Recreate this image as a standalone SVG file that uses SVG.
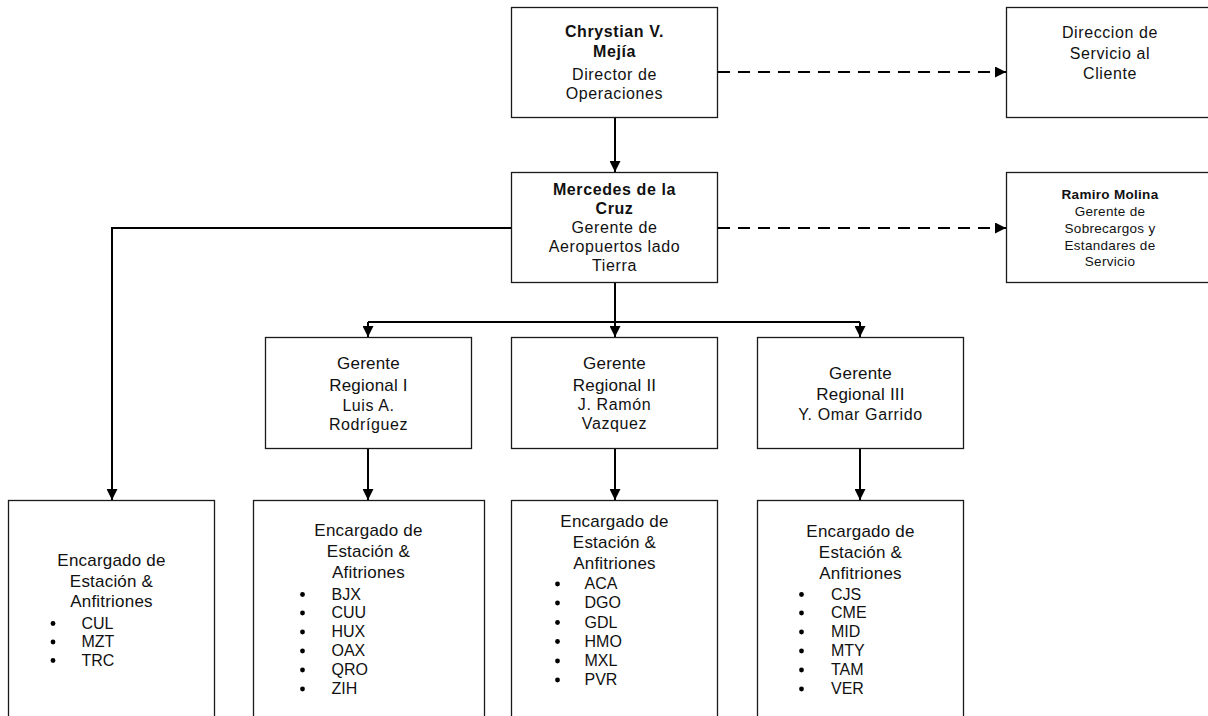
<svg xmlns="http://www.w3.org/2000/svg" width="1208" height="716" viewBox="0 0 1208 716">
<style>
.box{fill:#fff;stroke:#1a1a1a;stroke-width:1.3}
.t{font-family:"Liberation Sans",Arial,sans-serif;font-size:16px;fill:#111;text-anchor:middle;letter-spacing:0.6px}
.b{font-weight:bold}
.s{font-size:13.5px;letter-spacing:0.3px}
.g{font-size:17px;letter-spacing:0.2px}
.li{font-family:"Liberation Sans",Arial,sans-serif;font-size:16px;fill:#111}
.bu{fill:#000}
.c{fill:none;stroke:#000;stroke-width:2}
.d{stroke-dasharray:12 8}
</style>
<defs>
<marker id="ah" viewBox="0 0 11 11" refX="11" refY="5.5" markerWidth="11" markerHeight="11" markerUnits="userSpaceOnUse" orient="auto">
<path d="M0,0 L11,5.5 L0,11 Z" fill="#000"/>
</marker>
</defs>
<g id="connectors">
<path class="c" d="M615,118 V172" marker-end="url(#ah)"/>
<path class="c d" d="M718,72 H1006" marker-end="url(#ah)"/>
<path class="c d" d="M718,228 H1006" marker-end="url(#ah)"/>
<path class="c" d="M511,228 H112 V500" marker-end="url(#ah)"/>
<path class="c" d="M615,283 V322"/>
<path class="c" d="M368,322 H860"/>
<path class="c" d="M368,322 V337" marker-end="url(#ah)"/>
<path class="c" d="M615,322 V337" marker-end="url(#ah)"/>
<path class="c" d="M860,322 V337" marker-end="url(#ah)"/>
<path class="c" d="M368,449 V500" marker-end="url(#ah)"/>
<path class="c" d="M615,449 V500" marker-end="url(#ah)"/>
<path class="c" d="M860,449 V500" marker-end="url(#ah)"/>
</g>
<g id="n-director">
<rect class="box" x="511.5" y="7.5" width="206" height="110"/>
<text class="t b" x="614.5" y="37">Chrystian V.</text>
<text class="t b" x="614.5" y="57">Mejía</text>
<text class="t" x="614.5" y="80">Director de</text>
<text class="t" x="614.5" y="99">Operaciones</text>
</g>
<g id="n-servicio">
<rect class="box" x="1006.5" y="7.5" width="207" height="110"/>
<text class="t" x="1110" y="38">Direccion de</text>
<text class="t" x="1110" y="58.5">Servicio al</text>
<text class="t" x="1110" y="79">Cliente</text>
</g>
<g id="n-mercedes">
<rect class="box" x="511.5" y="172.5" width="206" height="110"/>
<text class="t b" x="614.5" y="195">Mercedes de la</text>
<text class="t b" x="614.5" y="214">Cruz</text>
<text class="t" x="614.5" y="233">Gerente de</text>
<text class="t" x="614.5" y="252">Aeropuertos lado</text>
<text class="t" x="614.5" y="271">Tierra</text>
</g>
<g id="n-ramiro">
<rect class="box" x="1006.5" y="172.5" width="207" height="110"/>
<text class="t s b" x="1110" y="199">Ramiro Molina</text>
<text class="t s" x="1110" y="215.5">Gerente de</text>
<text class="t s" x="1110" y="232.5">Sobrecargos y</text>
<text class="t s" x="1110" y="249.5">Estandares de</text>
<text class="t s" x="1110" y="266">Servicio</text>
</g>
<g id="n-reg1">
<rect class="box" x="265.5" y="337.5" width="206" height="111"/>
<text class="t g" x="368.5" y="369">Gerente</text>
<text class="t g" x="368.5" y="391">Regional I</text>
<text class="t" x="368.5" y="410.5">Luis A.</text>
<text class="t" x="368.5" y="429.5">Rodríguez</text>
</g>
<g id="n-reg2">
<rect class="box" x="511.5" y="337.5" width="206" height="111"/>
<text class="t g" x="614.5" y="368.5">Gerente</text>
<text class="t g" x="614.5" y="390.5">Regional II</text>
<text class="t" x="614.5" y="409.5">J. Ramón</text>
<text class="t" x="614.5" y="428.5">Vazquez</text>
</g>
<g id="n-reg3">
<rect class="box" x="757.5" y="337.5" width="206" height="111"/>
<text class="t g" x="860.5" y="378.5">Gerente</text>
<text class="t g" x="860.5" y="400">Regional III</text>
<text class="t" x="860.5" y="419.5">Y. Omar Garrido</text>
</g>
<g id="n-est0">
<rect class="box" x="8.5" y="500.5" width="206" height="230"/>
<text class="t g" x="111.5" y="566">Encargado de</text>
<text class="t g" x="111.5" y="587">Estación &amp;</text>
<text class="t g" x="111.5" y="607">Anfitriones</text>
<circle class="bu" cx="53" cy="623.5" r="2.4"/><text class="li" x="81.5" y="628.5">CUL</text>
<circle class="bu" cx="53" cy="642" r="2.4"/><text class="li" x="81.5" y="647">MZT</text>
<circle class="bu" cx="53" cy="660.5" r="2.4"/><text class="li" x="81.5" y="665.5">TRC</text>
</g>
<g id="n-est1">
<rect class="box" x="253.5" y="500.5" width="231" height="230"/>
<text class="t g" x="368.5" y="536">Encargado de</text>
<text class="t g" x="368.5" y="557">Estación &amp;</text>
<text class="t g" x="368.5" y="578">Afitriones</text>
<circle class="bu" cx="302.5" cy="594.5" r="2.4"/><text class="li" x="331.5" y="599.5">BJX</text>
<circle class="bu" cx="302.5" cy="613" r="2.4"/><text class="li" x="331.5" y="618">CUU</text>
<circle class="bu" cx="302.5" cy="632" r="2.4"/><text class="li" x="331.5" y="637">HUX</text>
<circle class="bu" cx="302.5" cy="651" r="2.4"/><text class="li" x="331.5" y="656">OAX</text>
<circle class="bu" cx="302.5" cy="670" r="2.4"/><text class="li" x="331.5" y="675">QRO</text>
<circle class="bu" cx="302.5" cy="689" r="2.4"/><text class="li" x="331.5" y="694">ZIH</text>
</g>
<g id="n-est2">
<rect class="box" x="511.5" y="500.5" width="206" height="230"/>
<text class="t g" x="614.5" y="527">Encargado de</text>
<text class="t g" x="614.5" y="547.5">Estación &amp;</text>
<text class="t g" x="614.5" y="568.5">Anfitriones</text>
<circle class="bu" cx="557.5" cy="584" r="2.4"/><text class="li" x="584.5" y="589">ACA</text>
<circle class="bu" cx="557.5" cy="603" r="2.4"/><text class="li" x="584.5" y="608">DGO</text>
<circle class="bu" cx="557.5" cy="622.5" r="2.4"/><text class="li" x="584.5" y="627.5">GDL</text>
<circle class="bu" cx="557.5" cy="641.5" r="2.4"/><text class="li" x="584.5" y="646.5">HMO</text>
<circle class="bu" cx="557.5" cy="661" r="2.4"/><text class="li" x="584.5" y="666">MXL</text>
<circle class="bu" cx="557.5" cy="680" r="2.4"/><text class="li" x="584.5" y="685">PVR</text>
</g>
<g id="n-est3">
<rect class="box" x="757.5" y="500.5" width="206" height="230"/>
<text class="t g" x="860.5" y="537">Encargado de</text>
<text class="t g" x="860.5" y="558">Estación &amp;</text>
<text class="t g" x="860.5" y="578.5">Anfitriones</text>
<circle class="bu" cx="801.5" cy="594.5" r="2.4"/><text class="li" x="831" y="599.5">CJS</text>
<circle class="bu" cx="801.5" cy="613" r="2.4"/><text class="li" x="831" y="618">CME</text>
<circle class="bu" cx="801.5" cy="632" r="2.4"/><text class="li" x="831" y="637">MID</text>
<circle class="bu" cx="801.5" cy="651" r="2.4"/><text class="li" x="831" y="656">MTY</text>
<circle class="bu" cx="801.5" cy="670" r="2.4"/><text class="li" x="831" y="675">TAM</text>
<circle class="bu" cx="801.5" cy="689" r="2.4"/><text class="li" x="831" y="694">VER</text>
</g>
</svg>
